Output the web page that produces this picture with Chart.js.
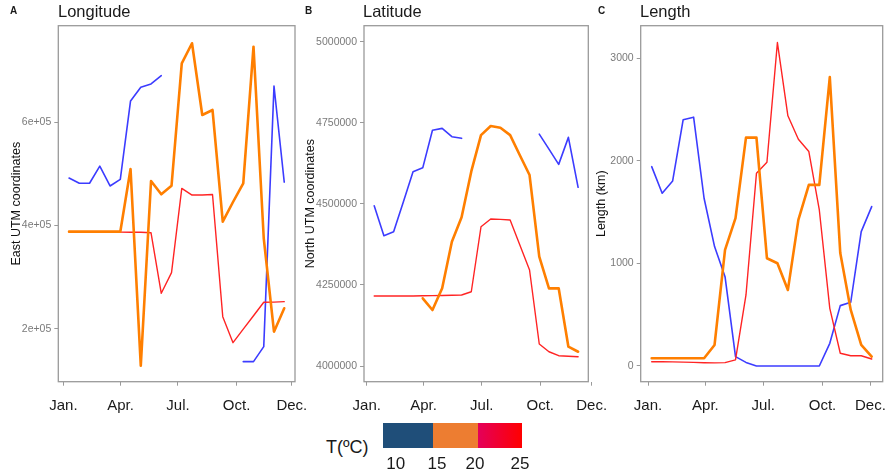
<!DOCTYPE html>
<html><head><meta charset="utf-8">
<script src="https://cdn.jsdelivr.net/npm/chart.js@4.4.0/dist/chart.umd.min.js"></script>
<style>
body{margin:0;background:#fff;width:885px;height:474px;overflow:hidden;position:relative;font-family:"Liberation Sans",Arial,sans-serif;}
canvas{position:absolute;top:0;}
.lab{position:absolute;line-height:1;white-space:nowrap;color:#1a1a1a;}
</style></head><body>
<canvas id="cA" width="310" height="420" style="left:0px"></canvas>
<canvas id="cB" width="320" height="420" style="left:295px"></canvas>
<canvas id="cC" width="295" height="420" style="left:590px"></canvas>

<div class="lab" style="left:10px;top:5.5px;font-size:10px;font-weight:bold;">A</div>
<div class="lab" style="left:58px;top:3.3px;font-size:16.5px;">Longitude</div>
<div class="lab" style="left:305px;top:5.5px;font-size:10px;font-weight:bold;">B</div>
<div class="lab" style="left:363px;top:3.3px;font-size:16.5px;">Latitude</div>
<div class="lab" style="left:598px;top:5.5px;font-size:10px;font-weight:bold;">C</div>
<div class="lab" style="left:640px;top:3.3px;font-size:16.5px;">Length</div>

<div class="lab" style="left:326px;top:437.8px;font-size:18px;">T(ºC)</div>
<div style="position:absolute;left:383.3px;top:423.3px;width:138.4px;height:25px;display:flex;">
  <div style="width:49.4px;height:100%;background:#1f4e79;"></div>
  <div style="width:45.6px;height:100%;background:#ed7d31;"></div>
  <div style="width:43.4px;height:100%;background:linear-gradient(to right,#e4005a,#ff0000);"></div>
</div>
<div id="legTicks"></div>

<script>
// ---- data (22 sampling periods through the year) ----
const periodIndex = [0,1,2,3,4,5,6,7,8,9,10,11,12,13,14,15,16,17,18,19,20,21];
const monthLabels = ['Jan.','Apr.','Jul.','Oct.','Dec.'];
const monthPosA = [-0.55, 5.02, 10.63, 16.35, 21.74];
const monthPosB = [-0.77, 5.08, 11.08, 17.1, 22.4];
const monthPosC = [-0.35, 5.13, 10.65, 16.3, 20.88];

// Panel A: Longitude (East UTM)
const lonBlue   = [492000,481800,481800,515000,476600,489500,641000,667500,674000,690000,null,null,null,null,null,null,null,136800,136800,165800,670000,484000];
const lonOrange = [388200,388200,388200,388200,388200,388200,509500,129000,486300,460500,477000,713900,752600,613900,623600,407500,445600,481800,746000,375400,194800,240000];
const lonRed    = [388200,388200,388000,387800,387600,387400,387200,387000,386000,269000,309000,472000,459000,459000,460000,223800,173500,199600,225500,251600,252000,252800];
const lonTicks  = [200000,400000,600000];
const lonTickLabels = ['2e+05','4e+05','6e+05'];

// Panel B: Latitude (North UTM)
const latBlue   = [4494000,4401700,4414000,4506000,4599000,4611000,4727000,4732700,4707000,4702000,null,null,null,null,null,null,null,4715000,4668700,4621700,4705000,4551000];
const latOrange = [null,null,null,null,null,4208700,4172600,4239500,4383200,4458400,4600000,4712000,4739800,4734600,4712000,4650000,4588800,4337000,4239500,4239500,4059500,4044000];
const latRed    = [4215800,4215800,4215800,4215800,4216000,4216500,4217000,4217500,4218000,4218900,4229000,4429400,4453100,4452000,4450000,4373000,4296000,4067800,4044000,4031700,4030000,4028700];
const latTicks  = [4000000,4250000,4500000,4750000,5000000];
const latTickLabels = ['4000000','4250000','4500000','4750000','5000000'];

// Panel C: Length (km)
const lenBlue   = [1942,1683,1803,2398,2424,1634,1163,870,91,35,0,0,0,0,0,0,0,221,588,621,1309,1553];
const lenOrange = [75,75,75,75,75,75,205,1131,1440,2225,2225,1050,1001,741,1423,1764,1764,2814,1100,546,205,91];
const lenRed    = [42,42,40,38,35,32,30,33,60,692,1878,1985,3151,2437,2209,2089,1520,562,124,100,100,68];
const lenTicks  = [0,1000,2000,3000];
const lenTickLabels = ['0','1000','2000','3000'];

// legend
const legendValues = ['10','15','20','25'];
const legendPos = [395.7,437,475,520];

// ---- rendering ----
const FONT = '"Liberation Sans", Arial, sans-serif';
const PLOT_TOP = 25.7, PLOT_BOTTOM = 381.7, CANVAS_H = 420;
const COL_BLUE = '#3c3cff', COL_ORANGE = '#ff7f00', COL_RED = '#ff2424';

const frame = {id:'frame', afterDatasetsDraw(chart){
  const {ctx, chartArea:a} = chart;
  ctx.save(); ctx.strokeStyle = '#9a9a9a'; ctx.lineWidth = 1.3;
  ctx.strokeRect(a.left, a.top, a.right - a.left, a.bottom - a.top);
  ctx.restore();
}};

function pts(arr){ return arr.map((v,i)=>({x: periodIndex[i], y: v})); }
function noPad(s){ s.paddingLeft = 0; s.paddingRight = 0; s.paddingTop = 0; s.paddingBottom = 0; }

function makePanel(id, o){
  new Chart(document.getElementById(id), {
    type: 'line',
    data: { datasets: [
      {data: pts(o.orange), borderColor: COL_ORANGE, borderWidth: 2.6, order: 0},
      {data: pts(o.red), borderColor: COL_RED, borderWidth: 1.4, order: 1},
      {data: pts(o.blue), borderColor: COL_BLUE, borderWidth: 1.6, order: 2}
    ]},
    options: {
      responsive: false, animation: false, devicePixelRatio: 1,
      spanGaps: false,
      elements: { point: {radius: 0, hoverRadius: 0}, line: {tension: 0, borderCapStyle: 'round', borderJoinStyle: 'round'} },
      layout: { autoPadding: false, padding: {left: 0, top: PLOT_TOP, right: o.padRight, bottom: 0} },
      plugins: { legend: {display: false}, tooltip: {enabled: false} },
      scales: {
        x: {
          type: 'linear', min: -1.05, max: 22.05,
          afterBuildTicks: s => { s.ticks = o.monthPos.map(v => ({value: v})); },
          afterFit: s => { s.height = CANVAS_H - PLOT_BOTTOM; noPad(s); },
          ticks: { callback: (v, i) => monthLabels[i], autoSkip: false, maxRotation: 0, minRotation: 0,
                   font: {family: FONT, size: 15}, color: '#1a1a1a', padding: 11 },
          grid: { drawOnChartArea: false, drawTicks: true, tickLength: 4, color: '#9a9a9a' },
          border: { display: false }
        },
        y: {
          type: 'linear', min: o.yMin, max: o.yMax,
          afterBuildTicks: s => { s.ticks = o.ticks.map(v => ({value: v})); },
          afterFit: s => { s.width = o.yWidth; noPad(s); },
          ticks: { callback: (v, i) => o.tickLabels[i], autoSkip: false,
                   font: {family: FONT, size: 10.5}, color: '#7a7a7a', padding: 3 },
          grid: { drawOnChartArea: false, drawTicks: true, tickLength: 4, color: '#9a9a9a' },
          border: { display: false },
          title: { display: true, text: o.title, color: '#111', font: {family: FONT, size: 12.5},
                   padding: {top: o.titlePad, bottom: 0} }
        }
      }
    },
    plugins: [frame]
  });
}

makePanel('cA', {blue: lonBlue, orange: lonOrange, red: lonRed, yMin: 98000, yMax: 786600, monthPos: monthPosA,
  ticks: lonTicks, tickLabels: lonTickLabels, title: 'East UTM coordinates', titlePad: 9.5, yWidth: 58.3, padRight: 15});
makePanel('cB', {blue: latBlue, orange: latOrange, red: latRed, yMin: 3951600, yMax: 5049300, monthPos: monthPosB,
  ticks: latTicks, tickLabels: latTickLabels, title: 'North UTM coordinates', titlePad: 8.5, yWidth: 69, padRight: 26.7});
makePanel('cC', {blue: lenBlue, orange: lenOrange, red: lenRed, yMin: -153, yMax: 3315, monthPos: monthPosC,
  ticks: lenTicks, tickLabels: lenTickLabels, title: 'Length (km)', titlePad: 4.5, yWidth: 50.7, padRight: 2.3});

const lt = document.getElementById('legTicks');
legendValues.forEach((t, i) => {
  const d = document.createElement('div');
  d.className = 'lab';
  d.style.cssText = 'left:' + (legendPos[i] - 30) + 'px;width:60px;text-align:center;top:454.6px;font-size:17px;';
  d.textContent = t;
  lt.appendChild(d);
});
</script>
</body></html>
